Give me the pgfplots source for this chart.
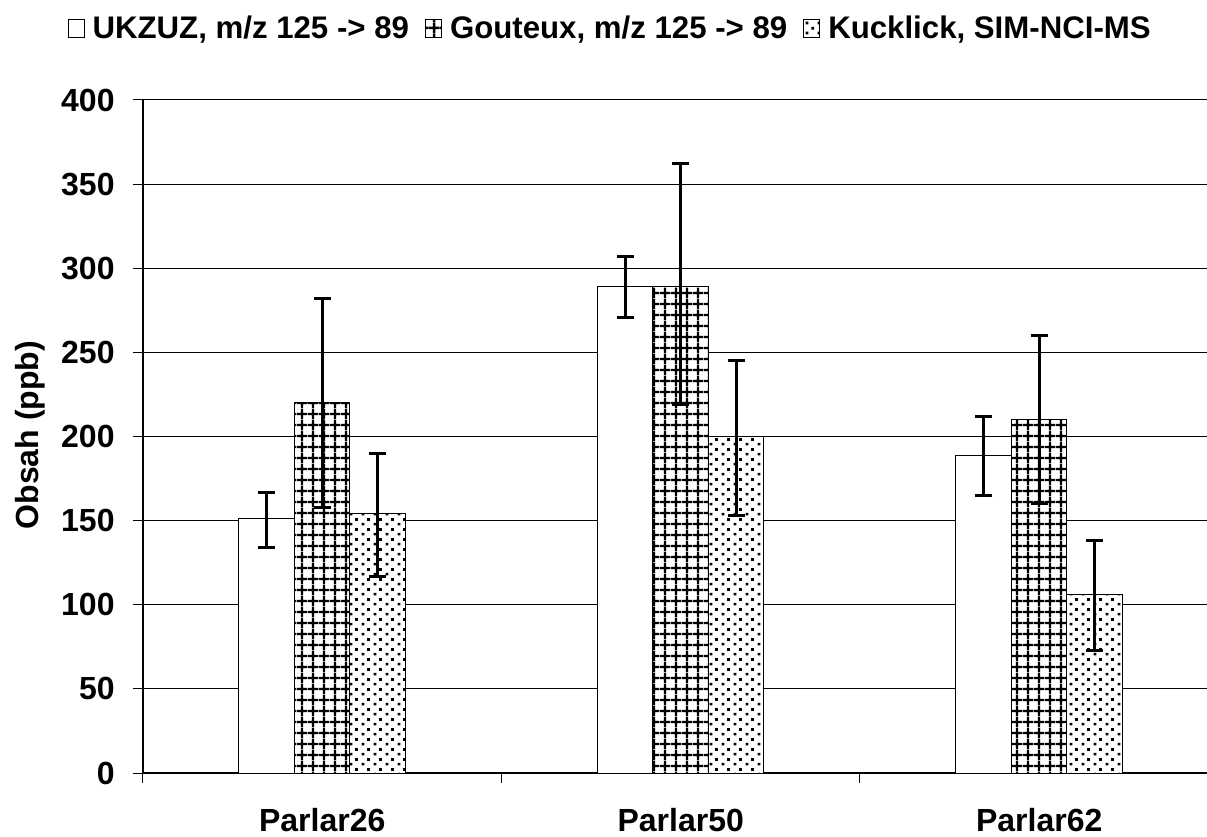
\documentclass[border=0pt]{standalone}
\usepackage{fontspec}
\setmainfont{Liberation Sans}
\usepackage{pgfplots}
\pgfplotsset{compat=1.18}
\usetikzlibrary{patterns}

\pgfdeclarepatternformonly{mygrid}{\pgfqpoint{0pt}{0pt}}{\pgfqpoint{5.5pt}{5.5pt}}{\pgfqpoint{5.5pt}{5.5pt}}{%
  \pgfsetlinewidth{1.3pt}%
  \pgfpathmoveto{\pgfqpoint{2.75pt}{-0.1pt}}\pgfpathlineto{\pgfqpoint{2.75pt}{5.6pt}}%
  \pgfpathmoveto{\pgfqpoint{-0.1pt}{2.75pt}}\pgfpathlineto{\pgfqpoint{5.6pt}{2.75pt}}%
  \pgfusepath{stroke}}

\pgfdeclarepatternformonly{mydots}{\pgfqpoint{0pt}{0pt}}{\pgfqpoint{6pt}{5pt}}{\pgfqpoint{6pt}{5pt}}{%
  \pgfpathrectangle{\pgfqpoint{0.9pt}{0.9pt}}{\pgfqpoint{1.4pt}{1.4pt}}%
  \pgfpathrectangle{\pgfqpoint{3.9pt}{3.4pt}}{\pgfqpoint{1.4pt}{1.4pt}}%
  \pgfusepath{fill}}

\newcommand{\lbl}{\bfseries\fontsize{16}{19}\selectfont}
\newcommand{\leg}{\bfseries\fontsize{15.6}{18}\selectfont}

\begin{document}
\begin{tikzpicture}
\begin{axis}[
  name=ax,
  scale only axis,
  width=532pt, height=336.5pt,
  xmin=-0.5, xmax=2.468,
  ymin=0, ymax=400,
  ytick={0,50,...,400},
  xtick={0,1,2},
  xticklabels={Parlar26,Parlar50,Parlar62},
  major x tick style={draw=none},
  extra x ticks={-0.5,0.5,1.5},
  extra x tick labels={},
  extra x tick style={major tick length=5pt, tick align=outside, grid=none, major x tick style={draw=black, line width=0.5pt}},
  axis x line*=bottom, axis y line*=left,
  axis line style={-, line width=0.75pt, black},
  tick align=outside,
  major tick length=5pt,
  tick style={black, line width=0.5pt},
  ymajorgrids,
  grid style={black, line width=0.5pt},
  /pgf/number format/assume math mode=true,
  tick label style={font=\lbl},
  yticklabel style={inner sep=0pt, xshift=-9pt},
  xticklabel style={inner sep=0pt, anchor=north, yshift=-12.5pt},
  ylabel={Obsah (ppb)},
  ylabel style={font=\lbl, at={(axis description cs:-0.106,0.502)}, anchor=center},
  ybar=0pt,
  bar width=27.75pt,
  error bars/error bar style={line width=1.5pt, black},
  error bars/error mark options={rotate=90, line width=1.5pt, mark size=4.25pt, black},
  legend image code/.code={\draw[#1, line width=0.5pt] (0pt,-4.5pt) rectangle (8pt,4.5pt);},
  legend columns=3,
  legend style={at={(0.44,1.1055)}, anchor=center, draw=none, fill=none, font=\leg,
    /tikz/every odd column/.append style={column sep=2pt},
    /tikz/every even column/.append style={column sep=6pt}},
  legend cell align=left,
]
\addplot[draw=black, line width=0.5pt, fill=white,
  error bars/.cd, y dir=both, y explicit]
  coordinates {(0,151) += (0,16) -= (0,17)
               (1,289) += (0,18) -= (0,18)
               (2,189) += (0,23) -= (0,24)};
\addplot[draw=black, line width=0.5pt, fill=white, postaction={pattern=mygrid, pattern color=black},
  error bars/.cd, y dir=both, y explicit]
  coordinates {(0,220) += (0,62) -= (0,62)
               (1,289) += (0,73) -= (0,70)
               (2,210) += (0,50) -= (0,50)};
\addplot[draw=black, line width=0.5pt, fill=white, postaction={pattern=mydots, pattern color=black},
  error bars/.cd, y dir=both, y explicit]
  coordinates {(0,154) += (0,36) -= (0,37)
               (1,200) += (0,45) -= (0,47)
               (2,106) += (0,32) -= (0,33)};
\legend{{UKZUZ, m/z 125 -> 89},{Gouteux, m/z 125 -> 89},{Kucklick, SIM-NCI-MS}}
\coordinate (sw) at (rel axis cs:0,0);
\coordinate (ne) at (rel axis cs:1,1);
\end{axis}
\pgfresetboundingbox
\path ([shift={(-71.5pt,-31.5pt)}]sw) rectangle ([yshift=50pt]ne);
\end{tikzpicture}
\end{document}
